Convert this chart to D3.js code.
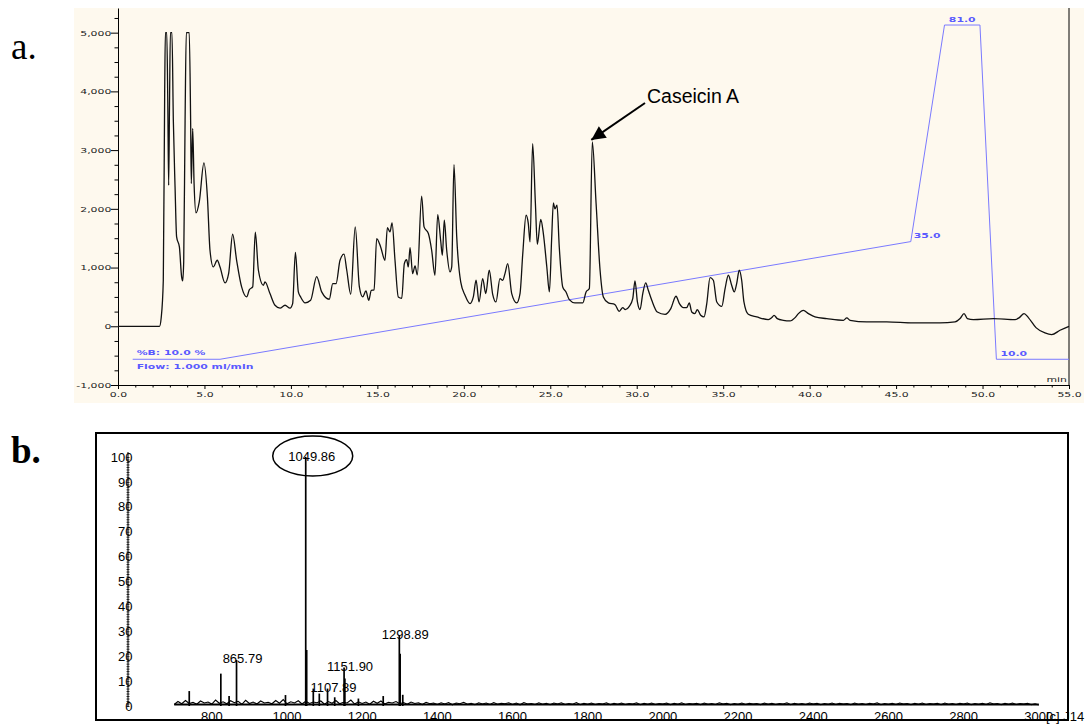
<!DOCTYPE html>
<html><head><meta charset="utf-8">
<script src="https://cdn.jsdelivr.net/npm/d3@7"></script>
<style>body{margin:0;background:#fff}svg{display:block}</style>
</head><body><svg id="c" width="1091" height="724"></svg>
<script>
// ---------- Panel a: HPLC chromatogram ----------
const timeMin = [0,2.4,2.5,2.62,2.7,2.74,2.82,2.88,2.93,2.98,3.03,3.12,3.2,3.3,3.39,3.55,3.68,3.74,3.8,3.88,3.95,4.12,4.2,4.24,4.32,4.4,4.51,4.7,4.97,5.17,5.32,5.51,5.74,5.9,6.19,6.4,6.63,6.86,7.15,7.44,7.6,7.79,7.94,8.12,8.41,8.5,8.79,9.08,9.37,9.66,9.95,10.1,10.26,10.43,10.56,10.82,11.14,11.49,11.78,12.22,12.42,12.61,12.84,13.07,13.23,13.46,13.72,13.96,14.15,14.34,14.5,14.65,14.81,14.96,15.19,15.44,15.58,15.73,15.85,16.02,16.21,16.41,16.56,16.69,16.79,16.89,17.04,17.18,17.31,17.56,17.7,17.95,18.14,18.33,18.49,18.66,18.76,18.87,19.01,19.2,19.3,19.43,19.59,19.82,20.07,20.36,20.55,20.71,20.88,21.09,21.27,21.47,21.67,21.86,22.09,22.25,22.38,22.54,22.77,23.06,23.25,23.41,23.6,23.73,23.83,23.98,24.14,24.25,24.45,24.6,24.8,24.95,25.08,25.18,25.27,25.39,25.52,25.72,25.91,26.1,26.43,26.88,27.07,27.26,27.43,27.65,27.88,28.07,28.36,28.74,28.99,29.19,29.34,29.57,29.77,29.9,30.04,30.19,30.35,30.52,30.67,30.87,31.19,31.64,31.97,32.27,32.47,32.7,32.89,33.04,33.18,33.37,33.5,33.7,33.89,34.05,34.24,34.43,34.63,34.92,35.11,35.3,35.49,35.64,35.78,35.93,36.07,36.2,36.45,36.94,37.61,37.81,37.94,38.13,38.48,38.87,39.16,39.35,39.64,39.93,40.31,40.99,41.95,42.15,42.34,43.3,44.46,46.0,47.54,48.41,48.7,48.93,49.12,49.47,50.63,51.88,52.13,52.4,52.65,53.09,53.61,54.0,54.48,55.0];
const signal = [0,0,150,784,4000,5000,5000,3800,2400,3800,5000,5000,3510,2373,1521,1351,840,772,1100,3510,5000,5000,3510,2430,3368,2430,1930,2118,2782,2203,1295,1010,1124,1010,738,900,1567,1124,670,500,625,670,1601,954,698,755,557,358,310,358,310,386,1260,585,500,398,443,846,585,460,727,727,1124,1227,954,545,1692,670,500,602,443,613,620,1494,1351,1124,1681,1607,1760,1124,500,477,1067,1135,1010,1340,897,1030,874,2215,1692,1579,1295,869,1903,1465,1210,1806,1295,925,1010,2754,1522,755,528,387,500,784,414,812,557,954,545,414,812,784,897,1067,557,398,557,1238,1891,1749,1437,3112,2090,1397,1818,1579,1010,585,1494,2101,2000,2061,1351,670,585,454,398,398,585,642,3140,2090,954,500,398,370,255,318,284,340,471,772,414,284,557,738,613,443,244,204,301,511,386,318,318,398,244,216,284,187,159,386,829,784,414,340,642,869,698,585,727,954,784,414,204,159,114,148,187,131,102,91,148,216,272,216,159,131,102,142,102,74,74,57,57,74,131,216,131,114,131,114,148,216,148,-23,-114,-142,-68,0];
// solvent gradient (%B)
const gradTime = [0.85,5.9,45.85,47.8,49.85,50.8,55.0];
const gradB    = [10,10,35,81,81,10,10];
const yTicksA = [-1000,0,1000,2000,3000,4000,5000];
const xTicksA = [0,5,10,15,20,25,30,35,40,45,50,55];

// ---------- Panel b: mass spectrum ----------
const peakMz  = [740,824,846,865.79,996,1049.86,1052.4,1070,1086,1107.89,1127,1151.9,1154,1190,1256,1298.89,1301,1308];
const peakInt = [6,13,4,18.5,4.4,100,22.5,7,5,7,3.5,15.5,11,3,4,28.5,21,4.5];
const labelMz = [865.79,1049.86,1107.89,1151.9,1298.89];
const labelTxt = ["865.79","1049.86","1107.89","1151.90","1298.89"];
const labelInt = [18.5,100,7,15.5,28.5];
const noiseStart = 700, noiseStep = 10;
const noise = [0.6,1.8,0.9,2.2,1.0,1.5,0.7,2.0,1.2,1.6,
0.8,2.4,1.1,1.7,0.9,2.1,1.3,1.9,0.7,2.3,
1.0,1.6,0.8,2.0,1.2,1.5,0.9,2.2,1.1,2.6,
0.9,1.7,1.2,2.1,0.8,1.9,1.0,1.6,1.3,2.0,
0.7,1.8,1.1,2.2,0.9,1.5,1.2,2.4,0.8,1.7,
1.0,1.6,0.7,1.9,1.1,2.0,0.8,1.5,1.2,1.8,
0.9,1.4,0.7,1.6,1.0,1.3,0.6,1.5,0.9,1.2,
0.6,1.3,0.8,1.4,0.5,1.2,0.9,1.5,0.7,1.1,
0.5,1.3,0.8,1.2,0.6,1.4,0.7,1.1,0.9,1.3,
0.6,1.2,0.5,1.4,0.8,1.0,0.6,1.3,0.7,1.1,
0.5,1.2,0.8,1.3,0.6,1.0,0.7,1.4,0.5,1.1,
0.7,1.2,0.6,1.0,0.8,1.3,0.5,1.1,0.7,1.2,
0.6,1.0,0.8,1.3,0.5,1.1,0.7,1.2,0.6,1.0,
0.8,1.2,0.5,1.1,0.7,1.3,0.6,1.0,0.8,1.1,
0.5,1.2,0.7,1.0,0.6,1.3,0.8,1.1,0.5,1.0,
0.7,1.2,0.6,1.1,0.8,1.0,0.5,1.2,0.7,1.1,
0.6,1.0,0.8,1.3,0.5,1.1,0.7,1.0,0.6,1.2,
0.8,1.1,0.5,1.0,0.7,1.2,0.6,1.1,0.8,1.0,
0.5,1.2,0.7,1.0,0.6,1.1,0.8,1.3,0.5,1.0,
0.7,1.1,0.6,1.2,0.8,1.0,0.5,1.1,0.7,1.2,
0.6,1.0,0.8,1.1,0.5,1.2,0.7,1.0,0.6,1.1,
0.8,1.2,0.5,1.0,0.7,1.1,0.6,1.3,0.8,1.0,
0.5,1.1,0.7,1.2,0.6,1.0,0.8,1.1,0.5,0.9,
0.4];
const yTicksB = [0,10,20,30,40,50,60,70,80,90,100];
const xTicksB = [800,1000,1200,1400,1600,1800,2000,2200,2400,2600,2800,3000];

const svg = d3.select("#c");
const blue = "#5a5aff";
const SX = 1.45;

// ===== Panel a =====
svg.append("rect").attr("x",74).attr("y",8).attr("width",1010).attr("height",395).attr("fill","#fef9ee");
svg.append("text").attr("x",11).attr("y",59).attr("font-family","Liberation Serif, Times New Roman, serif")
  .attr("font-size",37).text("a.");

const x = d3.scaleLinear().domain([0,55]).range([118,1069]);
const y = d3.scaleLinear().domain([-1000,5420]).range([385,8]);
const yB = d3.scaleLinear().domain([10,81]).range([y(-562), y(5130)]);

const ga = svg.append("g");
const yax = ga.append("g").attr("transform",`translate(${x(0)},0)`)
  .call(d3.axisLeft(y).tickValues(yTicksA).tickSize(7).tickSizeOuter(0).tickPadding(0)
    .tickFormat(d=>d3.format(",")(d).replace("\u2212","-")));
yax.selectAll("text").attr("x",-4.6).attr("transform",`scale(${SX},1)`)
  .attr("font-family","DejaVu Sans, sans-serif").attr("font-size",7.5).attr("fill","#222");
ga.append("g").attr("transform",`translate(${x(0)},0)`)
  .call(d3.axisLeft(y).tickValues(d3.range(-1000,5300,250).filter(v=>v%1000!==0)).tickSize(3.5).tickFormat(""))
  .call(g=>g.select(".domain").remove());
ga.append("line").attr("x1",x(55)).attr("x2",x(55)).attr("y1",y(5420)).attr("y2",y(-1000)).attr("stroke","#000");
const xax = ga.append("g").attr("transform",`translate(0,${y(-1000)})`)
  .call(d3.axisBottom(x).tickValues(xTicksA).tickSize(4).tickSizeOuter(0).tickPadding(0).tickFormat(d3.format(".1f")));
xax.selectAll("text").attr("y",6.5).attr("x",0).attr("transform",`scale(${SX},1)`)
  .attr("font-family","DejaVu Sans, sans-serif").attr("font-size",7.5).attr("fill","#222");
ga.append("g").attr("transform",`translate(0,${y(-1000)})`)
  .call(d3.axisBottom(x).tickValues(d3.range(0,56,1).filter(v=>v%5!==0)).tickSize(2.5).tickFormat(""))
  .call(g=>g.select(".domain").remove());
svg.append("text").attr("transform",`translate(${x(55)-2},${y(-1000)-3}) scale(${SX},1)`)
  .attr("text-anchor","end").attr("font-family","DejaVu Sans, sans-serif").attr("font-size",7.5).attr("fill","#222").text("min");

const gradPts = gradTime.map((t,i)=>[t,gradB[i]]);
ga.append("path").datum(gradPts)
  .attr("d", d3.line().x(d=>x(d[0])).y(d=>yB(d[1])))
  .attr("fill","none").attr("stroke","#7a7aff").attr("stroke-width",1);
function btext(px,py,txt,anchor){
  svg.append("text").attr("transform",`translate(${px},${py}) scale(${SX},1)`)
    .attr("text-anchor",anchor||"start")
    .attr("font-family","DejaVu Sans, sans-serif").attr("font-size",7.5).attr("font-weight","bold")
    .attr("fill",blue).text(txt);
}
btext(x(gradTime[0])+4, yB(gradB[0])-3.8, "%B: 10.0 %");
btext(x(gradTime[0])+4, yB(gradB[0])+9.5, "Flow: 1.000 ml/min");
btext(x(gradTime[2])+3, yB(gradB[2])-3.5, "35.0");
btext((x(gradTime[3])+x(gradTime[4]))/2, yB(gradB[3])-3.5, "81.0", "middle");
btext(x(gradTime[5])+4, yB(gradB[5])-3.5, "10.0");

const trace = timeMin.map((t,i)=>[t,signal[i]]);
ga.append("path").datum(trace)
  .attr("d", d3.line().x(d=>x(d[0])).y(d=>y(d[1])).curve(d3.curveMonotoneX))
  .attr("fill","none").attr("stroke","#111").attr("stroke-width",1.3).attr("stroke-linejoin","round");

const ci = signal.indexOf(3140);
const tipX = x(timeMin[ci]), tipY = y(signal[ci]);
svg.append("defs").append("marker").attr("id","ah").attr("viewBox","0 0 10 10").attr("refX",10).attr("refY",5)
  .attr("markerWidth",17).attr("markerHeight",14).attr("markerUnits","userSpaceOnUse").attr("orient","auto")
  .append("path").attr("d","M0,0 L10,5 L0,10 z").attr("fill","#000");
svg.append("line").attr("x1",645).attr("y1",103).attr("x2",tipX-1).attr("y2",tipY-2)
  .attr("stroke","#000").attr("stroke-width",2).attr("marker-end","url(#ah)");
svg.append("text").attr("x",647).attr("y",103).attr("font-family","Liberation Sans, Arial, sans-serif")
  .attr("font-size",19.5).text("Caseicin A");

// ===== Panel b =====
svg.append("text").attr("x",11).attr("y",463).attr("font-family","Liberation Serif, Times New Roman, serif")
  .attr("font-size",37).attr("font-weight","bold").text("b.");
const xb = d3.scaleLinear().domain([800,3000]).range([211.8,1038.8]);
const yb = d3.scaleLinear().domain([0,100]).range([706,457]);
const gb = svg.append("g");
gb.append("line").attr("x1",128).attr("x2",128).attr("y1",yb(102)).attr("y2",yb(0)+1).attr("stroke","#000");
gb.append("g").attr("transform","translate(129.5,0)")
  .call(d3.axisLeft(yb).tickValues(d3.range(0,101,1)).tickSize(3).tickFormat(""))
  .call(g=>g.select(".domain").remove())
  .selectAll("line").attr("stroke-width",0.8);
gb.selectAll("text.yl").data(yTicksB).join("text").attr("class","yl")
  .attr("x",132.5).attr("y",d=>yb(d)).attr("dy","0.36em").attr("text-anchor","end")
  .attr("font-family","Liberation Sans, Arial, sans-serif").attr("font-size",13).text(d=>d);
gb.selectAll("text.xl").data(xTicksB).join("text").attr("class","xl")
  .attr("x",d=>xb(d)).attr("y",721).attr("text-anchor","middle")
  .attr("font-family","Liberation Sans, Arial, sans-serif").attr("font-size",13).text(d=>d);
// noise band: thick baseline plus jagged trace
const noisePts = noise.map((v,i)=>[noiseStart+i*noiseStep, v]);
gb.append("line").attr("x1",xb(noiseStart)).attr("x2",xb(noiseStart+(noise.length-1)*noiseStep))
  .attr("y1",yb(0.6)).attr("y2",yb(0.6)).attr("stroke","#000").attr("stroke-width",2.2);
gb.append("path").datum(noisePts).attr("d", d3.line().x(d=>xb(d[0])).y(d=>yb(d[1])))
  .attr("fill","none").attr("stroke","#000").attr("stroke-width",1.1);
gb.selectAll("line.pk").data(peakMz).join("line").attr("class","pk")
  .attr("x1",d=>xb(d)).attr("x2",d=>xb(d)).attr("y1",yb(0)).attr("y2",(d,i)=>yb(peakInt[i]))
  .attr("stroke","#000").attr("stroke-width",1.7);
gb.selectAll("text.pl").data(labelMz).join("text").attr("class","pl")
  .attr("x",d=>xb(d)+6).attr("y",(d,i)=>yb(labelInt[i])+3.5).attr("text-anchor","middle")
  .attr("font-family","Liberation Sans, Arial, sans-serif").attr("font-size",13).text((d,i)=>labelTxt[i]);
gb.append("ellipse").attr("cx",xb(1049.86)+7).attr("cy",yb(100)-1).attr("rx",40).attr("ry",20)
  .attr("fill","none").attr("stroke","#000").attr("stroke-width",1.5);
gb.append("rect").attr("x",96).attr("y",433).attr("width",972).attr("height",287)
  .attr("fill","none").attr("stroke","#000").attr("stroke-width",2);
gb.append("text").attr("x",1046).attr("y",721).attr("font-family","Liberation Sans, Arial, sans-serif")
  .attr("font-size",13).text("[c].J14");
</script></body></html>
